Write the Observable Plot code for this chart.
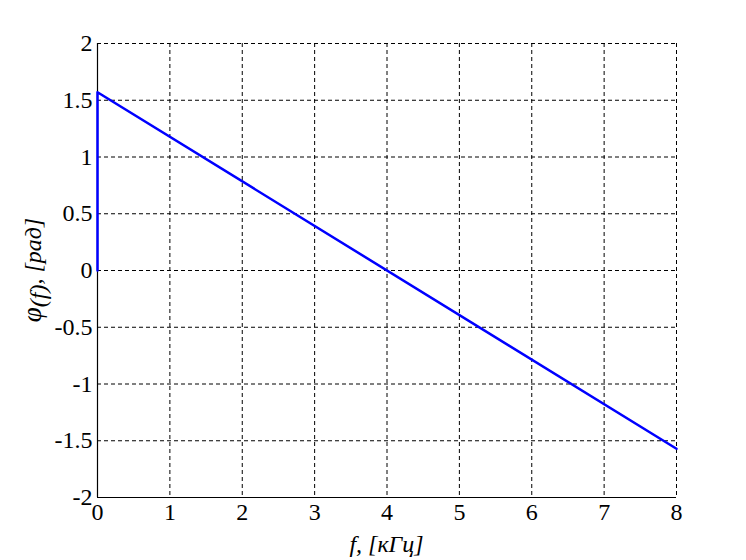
<!DOCTYPE html>
<html>
<head>
<meta charset="utf-8">
<script src="https://cdn.jsdelivr.net/npm/d3@7"></script>
<script src="https://cdn.jsdelivr.net/npm/@observablehq/plot@0.6"></script>
<style>
  html, body { margin: 0; padding: 0; background: white; }
  #chart { width: 746px; height: 560px; }
</style>
</head>
<body>
<div id="chart"></div>
<script>
// Data
const freq = [0, 0, 8];                 // f, kHz
const phase = [0, 1.5708, -1.5708];     // phi(f), rad
const xTicks = [0, 1, 2, 3, 4, 5, 6, 7, 8];
const yTicks = [-2, -1.5, -1, -0.5, 0, 0.5, 1, 1.5, 2];
const xLabel = "f, [кГц]";
const yLabelParts = ["φ", "(f)", ", [рад]"];

const data = freq.map((f, i) => ({f, phi: phase[i]}));

const fontFamily = "'Liberation Serif', 'DejaVu Serif', serif";

const chart = Plot.plot({
  width: 746,
  height: 560,
  marginLeft: 97,
  marginRight: 70,
  marginTop: 43,
  marginBottom: 63,
  style: {fontFamily, fontSize: "24px", background: "white", color: "black", overflow: "visible"},
  x: {domain: [0, 8], label: null},
  y: {domain: [-2, 2], label: null},
  marks: [
    Plot.gridX(xTicks, {stroke: "black", strokeOpacity: 1, strokeWidth: 1, strokeDasharray: "4,3"}),
    Plot.gridY(yTicks, {stroke: "black", strokeOpacity: 1, strokeWidth: 1, strokeDasharray: "4,3"}),
    Plot.axisX(xTicks, {tickSize: 0, tickPadding: 5, tickFormat: d => String(d)}),
    Plot.axisY(yTicks, {tickSize: 0, tickPadding: 5, tickFormat: d => String(d)}),
    Plot.ruleX([0], {stroke: "black", strokeWidth: 1.2}),
    Plot.ruleY([-2], {stroke: "black", strokeWidth: 1.2}),
    Plot.line(data, {x: "f", y: "phi", stroke: "#0000ff", strokeWidth: 2.5})
  ]
});

const svg = d3.select(chart);
// enforce tick label font
svg.selectAll("text")
  .style("font-size", "24px")
  .style("font-family", fontFamily);

// x-axis label
svg.append("text")
  .attr("x", 386.5)
  .attr("y", 552)
  .attr("text-anchor", "middle")
  .style("font-family", fontFamily)
  .style("font-style", "italic")
  .style("font-size", "24px")
  .attr("fill", "black")
  .text(xLabel);
// y-axis label
const yl = svg.append("text")
  .attr("transform", "translate(41,270) rotate(-90)")
  .attr("text-anchor", "middle")
  .style("font-family", fontFamily)
  .style("font-style", "italic")
  .style("font-size", "24px")
  .attr("fill", "black");
yl.append("tspan").style("font-size", "27px").text(yLabelParts[0]);
yl.append("tspan").attr("dy", 5).text(yLabelParts[1]);
yl.append("tspan").attr("dy", -5).text(yLabelParts[2]);

document.getElementById("chart").appendChild(chart);
</script>
</body>
</html>
